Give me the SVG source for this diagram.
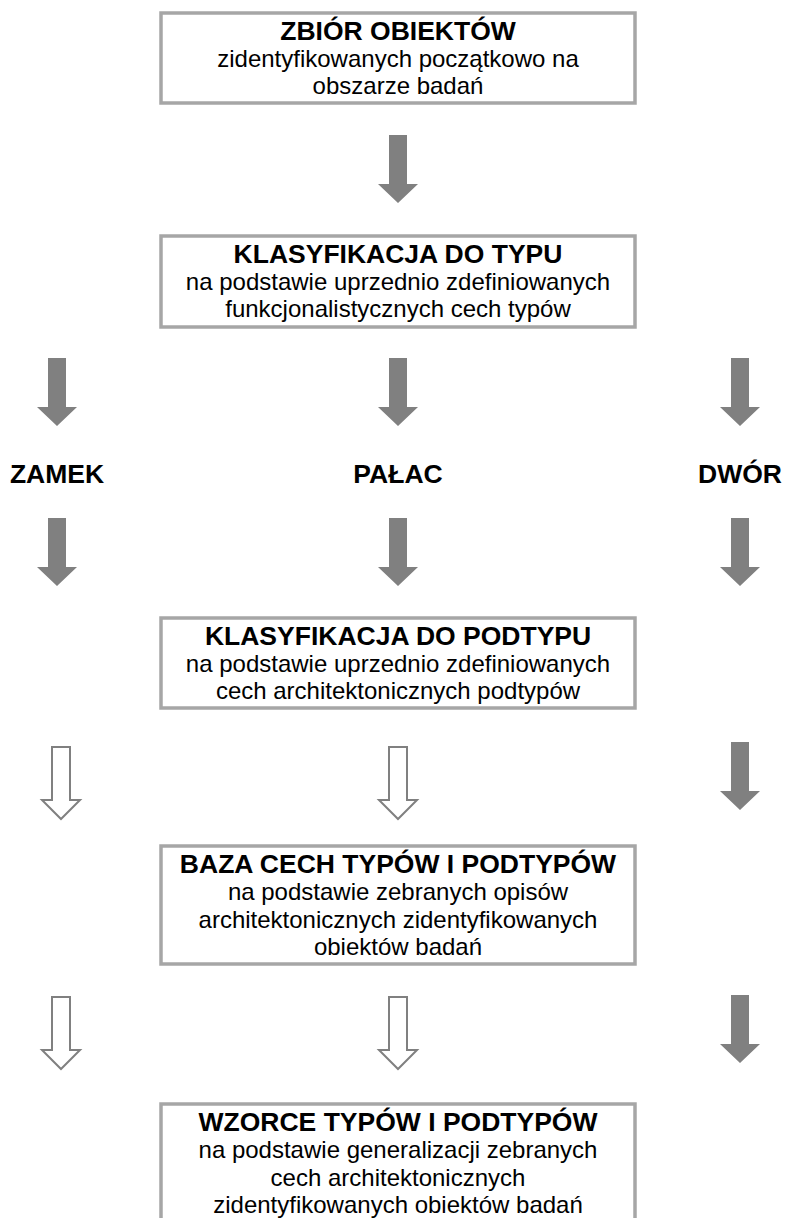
<svg xmlns="http://www.w3.org/2000/svg" xmlns:xlink="http://www.w3.org/1999/xlink" width="785" height="1218" viewBox="0 0 785 1218">
<style>
.box{fill:#ffffff;stroke:#a6a6a6;stroke-width:3.5}
.t{font-family:"Liberation Sans",Arial,sans-serif;font-size:24px;fill:#000;text-anchor:middle}
.b{font-weight:bold;font-size:26.5px}
.lbl{font-family:"Liberation Sans",Arial,sans-serif;font-size:26.5px;font-weight:bold;fill:#000;text-anchor:middle}
.fa{fill:#808080;stroke:none}
.oa{fill:#ffffff;stroke:#808080;stroke-width:2}
</style>
<defs>
<path id="fa" class="fa" d="M-9,0 H9 V49 H20 L0,68 L-20,49 H-9 Z"/>
<path id="oa" class="oa" d="M-9,0 H9 V53 H19 L0,72 L-19,53 H-9 Z"/>
</defs>
<rect width="785" height="1218" fill="#ffffff"/>
<g id="connectors">
<use xlink:href="#fa" href="#fa" x="398" y="135"/>
<use xlink:href="#fa" href="#fa" x="57" y="358"/>
<use xlink:href="#fa" href="#fa" x="398" y="358"/>
<use xlink:href="#fa" href="#fa" x="740" y="358"/>
<use xlink:href="#fa" href="#fa" x="57" y="518"/>
<use xlink:href="#fa" href="#fa" x="398" y="518"/>
<use xlink:href="#fa" href="#fa" x="740" y="518"/>
<use xlink:href="#oa" href="#oa" x="61" y="747"/>
<use xlink:href="#oa" href="#oa" x="398" y="747"/>
<use xlink:href="#fa" href="#fa" x="740" y="742"/>
<use xlink:href="#oa" href="#oa" x="61" y="997"/>
<use xlink:href="#oa" href="#oa" x="398" y="997"/>
<use xlink:href="#fa" href="#fa" x="740" y="995"/>
</g>
<g id="n1">
<rect class="box" x="161" y="13" width="474" height="90"/>
<text class="t" x="398"><tspan class="b" x="398" y="40">ZBIÓR OBIEKTÓW</tspan><tspan x="398" y="67">zidentyfikowanych początkowo na</tspan><tspan x="398" y="94">obszarze badań</tspan></text>
</g>
<g id="n2">
<rect class="box" x="161" y="236" width="474" height="91"/>
<text class="t" x="398"><tspan class="b" x="398" y="263">KLASYFIKACJA DO TYPU</tspan><tspan x="398" y="290">na podstawie uprzednio zdefiniowanych</tspan><tspan x="398" y="317">funkcjonalistycznych cech typów</tspan></text>
</g>
<g id="zamek"><text class="lbl" x="57" y="483">ZAMEK</text></g>
<g id="palac"><text class="lbl" x="398" y="483">PAŁAC</text></g>
<g id="dwor"><text class="lbl" x="740" y="483">DWÓR</text></g>
<g id="n3">
<rect class="box" x="161" y="618" width="474" height="90"/>
<text class="t" x="398"><tspan class="b" x="398" y="645">KLASYFIKACJA DO PODTYPU</tspan><tspan x="398" y="672">na podstawie uprzednio zdefiniowanych</tspan><tspan x="398" y="699">cech architektonicznych podtypów</tspan></text>
</g>
<g id="n4">
<rect class="box" x="161" y="846" width="474" height="118"/>
<text class="t" x="398"><tspan class="b" x="398" y="873">BAZA CECH TYPÓW I PODTYPÓW</tspan><tspan x="398" y="900">na podstawie zebranych opisów</tspan><tspan x="398" y="927.5">architektonicznych zidentyfikowanych</tspan><tspan x="398" y="955">obiektów badań</tspan></text>
</g>
<g id="n5">
<rect class="box" x="161" y="1104" width="474" height="130"/>
<text class="t" x="398"><tspan class="b" x="398" y="1131">WZORCE TYPÓW I PODTYPÓW</tspan><tspan x="398" y="1158">na podstawie generalizacji zebranych</tspan><tspan x="398" y="1185.5">cech architektonicznych</tspan><tspan x="398" y="1213">zidentyfikowanych obiektów badań</tspan></text>
</g>
</svg>
